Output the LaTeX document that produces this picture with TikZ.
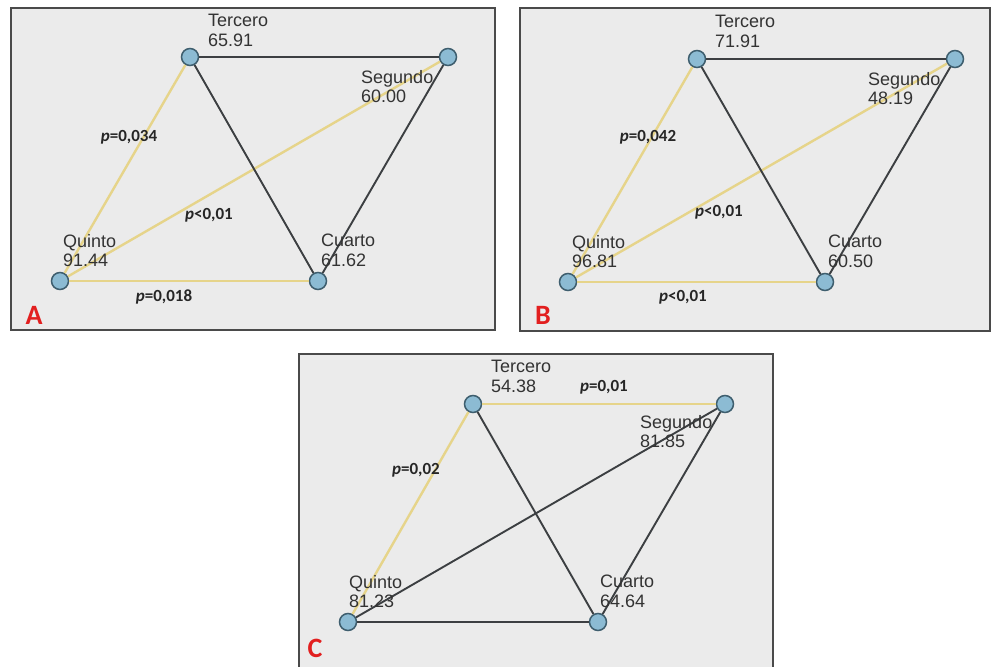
\documentclass[tikz,border=0pt]{standalone}
\usepackage{fontspec}
\setmainfont{Liberation Sans}
\newfontfamily\pfont{Carlito}
\definecolor{panelbg}{HTML}{EBEBEB}
\definecolor{framec}{HTML}{4A4A4A}
\definecolor{nodefill}{HTML}{8CBBD3}
\definecolor{nodedraw}{HTML}{3E5E6E}
\definecolor{yel}{HTML}{E6D48A}
\definecolor{dk}{HTML}{3C3F42}
\definecolor{labc}{HTML}{333333}
\definecolor{redc}{HTML}{E21F1F}
\begin{document}
\begin{tikzpicture}[x=1pt,y=-1pt,
  panel/.style={fill=panelbg,draw=framec,line width=1.6pt},
  pnode/.style={circle,minimum size=17pt,inner sep=0pt,fill=nodefill,draw=nodedraw,line width=1.5pt},
  lab/.style={anchor=north west,inner sep=0pt,align=left,font=\fontsize{18}{19.5}\selectfont,text=labc},
  plab/.style={inner sep=0pt,font=\pfont\bfseries\fontsize{17}{17}\selectfont,text=black!85},
  letter/.style={inner sep=0pt,font=\pfont\bfseries\fontsize{28}{28}\selectfont,text=redc},
  ye/.style={draw=yel,line width=2.4pt},
  dkl/.style={draw=dk,line width=1.9pt}]
\useasboundingbox (0,0) rectangle (992,666);
\fill[white] (0,0) rectangle (992,666);
% panels
\draw[panel] (11,8) rectangle (495,330);
\draw[panel] (520,8) rectangle (990,331);
\draw[panel] (299,354) rectangle (773,680);
% ---------- A ----------
\node[pnode] (aT) at (190,57) {};
\node[pnode] (aS) at (448,57) {};
\node[pnode] (aQ) at (60,281) {};
\node[pnode] (aC) at (318,281) {};
\draw[ye] (aT) -- (aQ);
\draw[ye] (aQ) -- (aS);
\draw[ye] (aQ) -- (aC);
\draw[dkl] (aT) -- (aS);
\draw[dkl] (aT) -- (aC);
\draw[dkl] (aS) -- (aC);
\node[lab] (aTl) at (208,14) {Tercero\\65.91};
\node[lab] (aSl) at (361,70) {Segundo\\60.00};
\node[lab] (aQl) at (63,234) {Quinto\\91.44};
\node[lab] (aCl) at (321,234) {Cuarto\\61.62};
\node[plab] (ap1) at (129,137) {\textit{p}=0,034};
\node[plab] (ap2) at (209,215) {\textit{p}<0,01};
\node[plab] (ap3) at (164,297) {\textit{p}=0,018};
\node[letter] (aL) at (34,315) {A};
% ---------- B ----------
\node[pnode] (bT) at (697,59) {};
\node[pnode] (bS) at (955,59) {};
\node[pnode] (bQ) at (568,282) {};
\node[pnode] (bC) at (825,282) {};
\draw[ye] (bT) -- (bQ);
\draw[ye] (bQ) -- (bS);
\draw[ye] (bQ) -- (bC);
\draw[dkl] (bT) -- (bS);
\draw[dkl] (bT) -- (bC);
\draw[dkl] (bS) -- (bC);
\node[lab] (bTl) at (715,15) {Tercero\\71.91};
\node[lab] (bSl) at (868,72) {Segundo\\48.19};
\node[lab] (bQl) at (572,235) {Quinto\\96.81};
\node[lab] (bCl) at (828,235) {Cuarto\\60.50};
\node[plab] (bp1) at (648,137) {\textit{p}=0,042};
\node[plab] (bp2) at (719,212) {\textit{p}<0,01};
\node[plab] (bp3) at (683,297) {\textit{p}<0,01};
\node[letter] (bL) at (543,315) {B};
% ---------- C ----------
\node[pnode] (cT) at (473,404) {};
\node[pnode] (cS) at (725,404) {};
\node[pnode] (cQ) at (348,622) {};
\node[pnode] (cC) at (598,622) {};
\draw[ye] (cT) -- (cS);
\draw[ye] (cT) -- (cQ);
\draw[dkl] (cT) -- (cC);
\draw[dkl] (cQ) -- (cS);
\draw[dkl] (cQ) -- (cC);
\draw[dkl] (cS) -- (cC);
\node[lab] (cTl) at (491,360) {Tercero\\54.38};
\node[lab] (cSl) at (640,415) {Segundo\\81.85};
\node[lab] (cQl) at (349,575) {Quinto\\81.23};
\node[lab] (cCl) at (600,575) {Cuarto\\64.64};
\node[plab] (cp1) at (604,387) {\textit{p}=0,01};
\node[plab] (cp2) at (416,470) {\textit{p}=0,02};
\node[letter] (cL) at (315,648) {C};
\end{tikzpicture}
\end{document}
